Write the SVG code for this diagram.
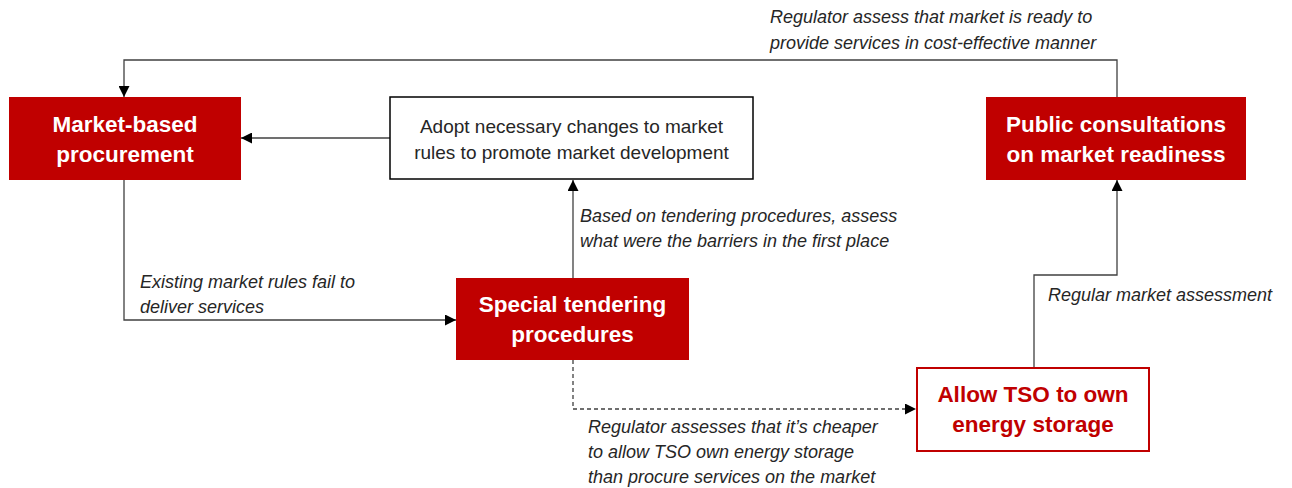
<svg xmlns="http://www.w3.org/2000/svg" width="1292" height="488" viewBox="0 0 1292 488">
  <style>
    .solid { fill: #C00000; }
    .title { font-family: "Liberation Sans", Arial, sans-serif; font-weight: bold; font-size: 22.5px; text-anchor: middle; }
    .wt { fill: #FFFFFF; }
    .rt { fill: #C00000; }
    .plain { font-family: "Liberation Sans", Arial, sans-serif; font-size: 19px; fill: #262626; text-anchor: middle; }
    .note { font-family: "Liberation Sans", Arial, sans-serif; font-style: italic; font-size: 18px; fill: #262626; }
    .edge { fill: none; stroke: #404040; stroke-width: 1.3; }
    .dash { stroke-dasharray: 4 3; }
  </style>
  <defs>
    <marker id="arrow" viewBox="0 0 10 10" refX="10" refY="5" markerWidth="11" markerHeight="11" markerUnits="userSpaceOnUse" orient="auto">
      <path d="M0,0 L10,5 L0,10 z" fill="#000000"/>
    </marker>
  </defs>

  <rect width="1292" height="488" fill="#FFFFFF"/>

  <!-- connectors -->
  <g id="connectors">
    <path class="edge" d="M1117,97 V60 H124 V97" marker-end="url(#arrow)"/>
    <path class="edge" d="M390,138 H241" marker-end="url(#arrow)"/>
    <path class="edge" d="M124,180 V320 H456" marker-end="url(#arrow)"/>
    <path class="edge" d="M573,278 V180" marker-end="url(#arrow)"/>
    <path class="edge dash" d="M573,360 V409 H916" marker-end="url(#arrow)"/>
    <path class="edge" d="M1034,367 V275 H1117 V180" marker-end="url(#arrow)"/>
  </g>

  <!-- connector labels -->
  <g id="labels">
    <text class="note" x="770" y="23">Regulator assess that market is ready to</text>
    <text class="note" x="770" y="49">provide services in cost-effective manner</text>
    <text class="note" x="140" y="288">Existing market rules fail to</text>
    <text class="note" x="140" y="313">deliver services</text>
    <text class="note" x="580" y="222">Based on tendering procedures, assess</text>
    <text class="note" x="580" y="247">what were the barriers in the first place</text>
    <text class="note" x="1048" y="301">Regular market assessment</text>
    <text class="note" x="588" y="433">Regulator assesses that it’s cheaper</text>
    <text class="note" x="588" y="458">to allow TSO own energy storage</text>
    <text class="note" x="588" y="483">than procure services on the market</text>
  </g>

  <g id="market-based">
    <rect class="solid" x="9" y="97" width="232" height="83"/>
    <text class="title wt" x="125" y="132">Market-based</text>
    <text class="title wt" x="125" y="162">procurement</text>
  </g>

  <g id="adopt-changes">
    <rect x="390" y="97" width="363" height="82" fill="#FFFFFF" stroke="#000000" stroke-width="1.5"/>
    <text class="plain" x="571.5" y="133">Adopt necessary changes to market</text>
    <text class="plain" x="571.5" y="159">rules to promote market development</text>
  </g>

  <g id="public-consultations">
    <rect class="solid" x="986" y="97" width="260" height="83"/>
    <text class="title wt" x="1116" y="132">Public consultations</text>
    <text class="title wt" x="1116" y="162">on market readiness</text>
  </g>

  <g id="special-tendering">
    <rect class="solid" x="456" y="278" width="233" height="82"/>
    <text class="title wt" x="572.5" y="312">Special tendering</text>
    <text class="title wt" x="572.5" y="342">procedures</text>
  </g>

  <g id="allow-tso">
    <rect x="917" y="368" width="232" height="83" fill="#FFFFFF" stroke="#C00000" stroke-width="2"/>
    <text class="title rt" x="1033" y="402">Allow TSO to own</text>
    <text class="title rt" x="1033" y="432">energy storage</text>
  </g>
</svg>
